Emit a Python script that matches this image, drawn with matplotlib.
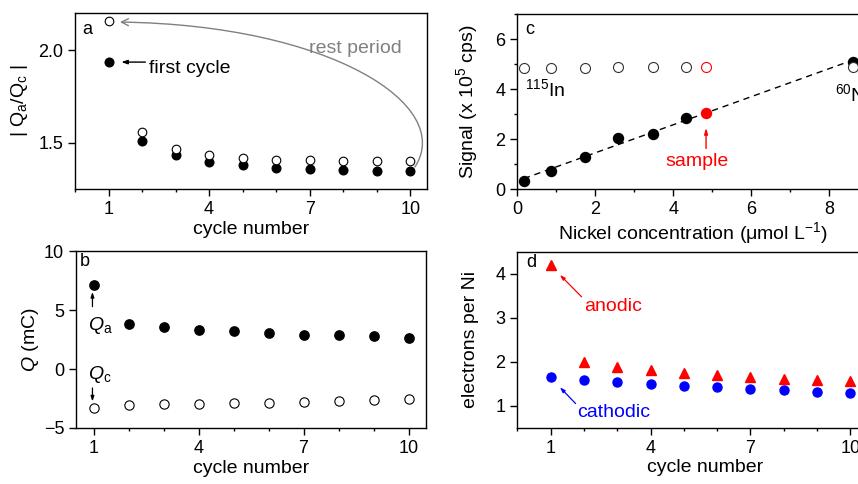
import numpy as np
import matplotlib
matplotlib.use("Agg")
import matplotlib.pyplot as plt
from matplotlib.ticker import MultipleLocator, FixedLocator
from matplotlib.patches import FancyArrowPatch
from matplotlib.path import Path

plt.rcParams['font.family'] = ['Liberation Sans', 'DejaVu Sans']
plt.rcParams['mathtext.fontset'] = 'custom'
plt.rcParams['mathtext.rm'] = 'Liberation Sans'
plt.rcParams['mathtext.it'] = 'Liberation Sans:italic'
plt.rcParams['axes.linewidth'] = 1.0

# data
cycles = [1, 2, 3, 4, 5, 6, 7, 8, 9, 10]

# panel a: |Qa/Qc|
ratio_first = [1.935, 1.509, 1.431, 1.397, 1.378, 1.365, 1.358, 1.355, 1.347, 1.349]
ratio_rest = [2.157, 1.559, 1.464, 1.431, 1.417, 1.408, 1.406, 1.403, 1.401, 1.399]

# panel b: charge (mC)
q_anodic = [7.18, 3.82, 3.56, 3.36, 3.22, 3.08, 2.91, 2.91, 2.77, 2.68]
q_cathodic = [-3.26, -3.06, -3.00, -2.97, -2.92, -2.86, -2.80, -2.75, -2.66, -2.55]

# panel c: calibration (signal x 1e5 cps)
ni_conc = [0.17, 0.865, 1.74, 2.59, 3.47, 4.33, 8.62]
ni_signal = [0.33, 0.73, 1.27, 2.04, 2.21, 2.83, 5.09]
in_signal = [4.83, 4.85, 4.85, 4.88, 4.88, 4.88, 4.89]
sample_conc = 4.84
sample_ni = 3.03
sample_in = 4.89

# panel d: electrons per Ni
e_anodic = [4.20, 2.00, 1.89, 1.81, 1.75, 1.70, 1.66, 1.62, 1.58, 1.56]
e_cathodic = [1.645, 1.58, 1.54, 1.49, 1.46, 1.42, 1.39, 1.35, 1.32, 1.30]

W, H = 858, 484
fig = plt.figure(figsize=(W / 100, H / 100), dpi=100)


def px_axes(left, top, right, bottom):
    return fig.add_axes([left / W, (H - bottom) / H, (right - left) / W, (bottom - top) / H])


def style(ax):
    ax.tick_params(which='both', direction='out', labelsize=13, width=1, top=False, right=False)
    ax.tick_params(which='major', length=5)
    ax.tick_params(which='minor', length=2.5)


lab = 14
ms = 6.2

# ---- panel a ----
ax = px_axes(75, 13, 427, 189)
style(ax)
ax.plot(cycles, ratio_first, 'o', color='black', ms=ms)
ax.plot(cycles, ratio_rest, 'o', mfc='white', mec='black', mew=0.8, ms=ms)
ax.set_xlim(0, 10.5)
ax.set_ylim(1.25, 2.2)
ax.xaxis.set_major_locator(FixedLocator([1, 4, 7, 10]))
ax.xaxis.set_minor_locator(MultipleLocator(1))
ax.set_yticks([1.5, 2.0])
ax.set_yticklabels(['1.5', '2.0'])
ax.set_xlabel('cycle number', fontsize=lab, labelpad=2)
ax.set_ylabel(r'| Q$_\mathrm{a}$/Q$_\mathrm{c}$ |', fontsize=lab, labelpad=6)
ax.text(0.034, 0.909, 'a', transform=ax.transAxes, fontsize=13, ha='center', va='center')

# rest period curve (cubic bezier back to the first open point)
rest_path = Path([(10.14, 1.369), (11.34, 1.703), (7.61, 2.135), (1.34, 2.151)],
                 [Path.MOVETO, Path.CURVE4, Path.CURVE4, Path.CURVE4])
ax.add_patch(FancyArrowPatch(path=rest_path, arrowstyle='->,head_length=5,head_width=2.5',
                             color='#808080', lw=1, clip_on=False))
ax.text(8.35, 2.008, 'rest period', color='#808080', fontsize=lab, ha='center', va='center')
ax.annotate('', xy=(1.38, 1.935), xytext=(2.1, 1.935),
            arrowprops=dict(arrowstyle='-|>,head_length=0.35,head_width=0.12', color='black', lw=1,
                            shrinkA=0, shrinkB=0))
ax.text(2.2, 1.90, 'first cycle', fontsize=lab, ha='left', va='center')

# ---- panel b ----
ax = px_axes(76, 251.3, 426, 428)
style(ax)
ax.plot(cycles, q_anodic, 'o', color='black', ms=ms + 0.5)
ax.plot(cycles, q_cathodic, 'o', mfc='white', mec='black', mew=0.8, ms=ms + 0.5)
ax.set_xlim(0.5, 10.5)
ax.set_ylim(-5, 10)
ax.xaxis.set_major_locator(FixedLocator([1, 4, 7, 10]))
ax.xaxis.set_minor_locator(FixedLocator(cycles))
ax.set_yticks([-5, 0, 5, 10])
ax.set_xlabel('cycle number', fontsize=lab, labelpad=2)
ax.set_ylabel(r'$Q$ (mC)', fontsize=lab, labelpad=2)
ax.text(0.026, 0.945, 'b', transform=ax.transAxes, fontsize=13, ha='center', va='center')
ax.annotate('', xy=(0.97, 6.55), xytext=(0.97, 5.3),
            arrowprops=dict(arrowstyle='-|>,head_length=0.3,head_width=0.1', color='black', lw=0.9,
                            shrinkA=0, shrinkB=0))
ax.text(0.83, 3.7, r'$Q_\mathrm{a}$', fontsize=lab, ha='left', va='center')
ax.text(0.83, -0.5, r'$Q_\mathrm{c}$', fontsize=lab, ha='left', va='center')
ax.annotate('', xy=(0.97, -2.75), xytext=(0.97, -1.6),
            arrowprops=dict(arrowstyle='-|>,head_length=0.3,head_width=0.1', color='black', lw=0.9,
                            shrinkA=0, shrinkB=0))

# ---- panel c ----
ax = px_axes(517.3, 14, 868.3, 189)
style(ax)
fit = np.polyfit(ni_conc, ni_signal, 1)
xf = np.array([ni_conc[0], ni_conc[-1]])
ax.plot(xf, np.polyval(fit, xf), color='black', lw=1, ls=(0, (4.5, 3.5)), zorder=1)
ax.plot(ni_conc, ni_signal, 'o', color='black', ms=ms + 1, zorder=2)
ax.plot(ni_conc, in_signal, 'o', mfc='white', mec='#333333', mew=0.8, ms=ms + 1, zorder=3)
ax.plot([sample_conc], [sample_ni], 'o', color='red', ms=ms + 1, zorder=3)
ax.plot([sample_conc], [sample_in], 'o', mfc='white', mec='red', mew=0.8, ms=ms + 1, zorder=3)
ax.set_xlim(0, 9)
ax.set_ylim(0, 7)
ax.xaxis.set_major_locator(MultipleLocator(2))
ax.xaxis.set_minor_locator(MultipleLocator(1))
ax.yaxis.set_major_locator(MultipleLocator(2))
ax.yaxis.set_minor_locator(MultipleLocator(1))
ax.set_xlabel(r'Nickel concentration (μmol L$^{-1}$)', fontsize=lab, labelpad=2)
ax.set_ylabel(r'Signal (x 10$^5$ cps)', fontsize=lab, labelpad=11)
ax.text(0.036, 0.909, 'c', transform=ax.transAxes, fontsize=13, ha='center', va='center')
ax.text(0.2, 4.0, r'$^{115}$In', fontsize=lab, ha='left', va='center')
ax.text(8.15, 3.8, r'$^{60}$Ni', fontsize=lab, ha='left', va='center')
ax.annotate('', xy=(sample_conc, 2.45), xytext=(sample_conc, 1.62),
            arrowprops=dict(arrowstyle='-|>,head_length=0.35,head_width=0.1', color='red', lw=1,
                            shrinkA=0, shrinkB=0))
ax.text(4.6, 1.08, 'sample', color='red', fontsize=lab, ha='center', va='center')

# ---- panel d ----
ax = px_axes(517.3, 252, 893.6, 427.7)
style(ax)
ax.plot(cycles, e_anodic, '^', color='red', ms=ms + 1)
ax.plot(cycles, e_cathodic, 'o', color='blue', ms=ms + 0.3)
ax.set_xlim(0, 11.3)
ax.set_ylim(0.5, 4.5)
ax.xaxis.set_major_locator(FixedLocator([1, 4, 7, 10]))
ax.xaxis.set_minor_locator(MultipleLocator(1))
ax.set_yticks([1, 2, 3, 4])
ax.set_xlabel('cycle number', fontsize=lab, labelpad=2)
ax.set_ylabel('electrons per Ni', fontsize=lab, labelpad=12)
ax.text(0.038, 0.939, 'd', transform=ax.transAxes, fontsize=13, ha='center', va='center')
ax.annotate('', xy=(1.28, 3.98), xytext=(1.93, 3.48),
            arrowprops=dict(arrowstyle='-|>,head_length=0.3,head_width=0.1', color='red', lw=0.9,
                            shrinkA=0, shrinkB=0))
ax.text(2.0, 3.27, 'anodic', color='red', fontsize=lab, ha='left', va='center')
ax.annotate('', xy=(1.28, 1.42), xytext=(1.75, 1.05),
            arrowprops=dict(arrowstyle='-|>,head_length=0.3,head_width=0.1', color='blue', lw=0.9,
                            shrinkA=0, shrinkB=0))
ax.text(1.8, 0.85, 'cathodic', color='blue', fontsize=lab, ha='left', va='center')

fig.savefig('out.png', dpi=100)
